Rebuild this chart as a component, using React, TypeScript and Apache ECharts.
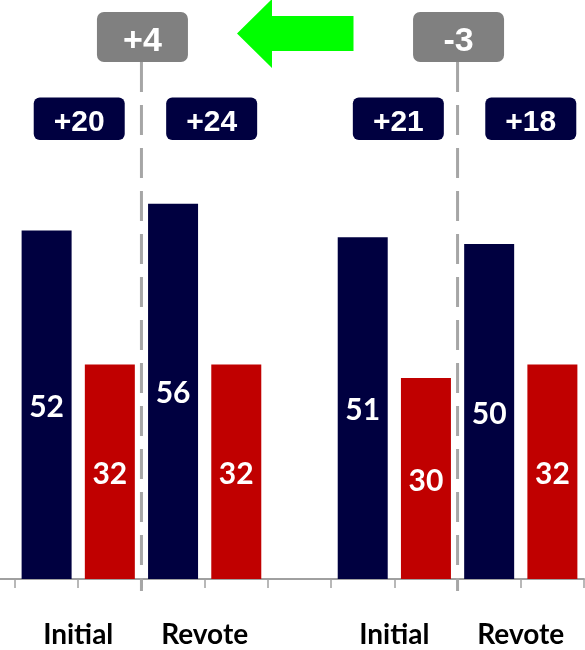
import React, { useEffect, useRef } from "react";
import * as echarts from "echarts";

// Data
const categories = ["Initial", "Revote", "Initial", "Revote"];
const conservative = [52, 56, 51, 50];
const labour = [32, 32, 30, 32];
const leads = ["+20", "+24", "+21", "+18"];
const changes = ["+4", "-3"];

const NAVY = "#000040";
const RED = "#c00000";
const GRAY_BOX = "#808080";
const DASH = "#a6a6a6";

// slot layout: 4 pairs, with an empty slot between the 2nd and 3rd pair
const slotOfPair = [0, 2, 5, 7];
const slotCount = 9;

export default function App() {
  const ref = useRef<HTMLDivElement>(null);

  useEffect(() => {
    if (!ref.current) return;
    const chart = echarts.init(ref.current, undefined, { renderer: "svg" });

    const navyData: (number | string)[] = new Array(slotCount).fill("-");
    const redData: (number | string)[] = new Array(slotCount).fill("-");
    slotOfPair.forEach((s, i) => {
      navyData[s] = conservative[i];
      redData[s + 1] = labour[i];
    });
    const slots = Array.from({ length: slotCount }, (_, i) => "s" + i);

    const valueLabel = {
      show: true,
      position: "inside",
      color: "#ffffff",
      fontFamily: "Lato",
      fontWeight: "bold",
      fontSize: 30,
    };

    chart.setOption({
      animation: false,
      grid: { left: 15, right: 1, top: 43, bottom: 71 },
      xAxis: {
        type: "category",
        data: slots,
        boundaryGap: true,
        axisLine: { show: true, lineStyle: { color: "#a0a0a0", width: 2 } },
        axisTick: { show: true, length: 9, lineStyle: { color: "#a0a0a0", width: 1.5 } },
        axisLabel: { show: false },
      },
      yAxis: {
        type: "value",
        min: 0,
        max: 80,
        show: false,
        splitLine: { show: false },
      },
      series: [
        {
          type: "bar",
          data: navyData,
          barWidth: 50,
          barGap: "-100%",
          itemStyle: { color: NAVY },
          label: valueLabel,
        },
        {
          type: "bar",
          data: redData,
          barWidth: 50,
          itemStyle: { color: RED },
          label: valueLabel,
        },
      ],
    });

    const px = (slot: number) => chart.convertToPixel({ xAxisIndex: 0 }, slots[slot]) as number;
    const half = (px(1) - px(0)) / 2;
    const boundaryAfter = (slot: number) => px(slot) + half;
    const axisY = chart.convertToPixel({ yAxisIndex: 0 }, 0) as number;

    const graphics: any[] = [];

    // axis line extension to the left edge
    graphics.push({
      type: "line",
      shape: { x1: 0, y1: axisY, x2: px(0) - half, y2: axisY },
      style: { stroke: "#a0a0a0", lineWidth: 2 },
    });

    // dashed separators + change boxes
    const sepSlots = [1, 6];
    sepSlots.forEach((s, i) => {
      const x = boundaryAfter(s);
      graphics.push({
        type: "line",
        shape: { x1: x, y1: 62, x2: x, y2: axisY + 12 },
        style: { stroke: DASH, lineWidth: 3, lineDash: [30, 13] },
        z: 1,
      });
      graphics.push({
        type: "rect",
        shape: { x: x + 1 - 45.5, y: 12, width: 91, height: 50, r: 7 },
        style: { fill: GRAY_BOX },
        z: 5,
      });
      graphics.push({
        type: "text",
        style: {
          text: changes[i],
          x: x + 1,
          y: 39,
          align: "center",
          verticalAlign: "middle",
          fill: "#ffffff",
          font: "bold 34px 'Liberation Sans', Arial, sans-serif",
        },
        z: 6,
      });
    });

    // lead badges + category labels
    const leadOffsets = [1, 7, 4, 10];
    slotOfPair.forEach((s, i) => {
      const x = boundaryAfter(s);
      const cx = x + leadOffsets[i];
      graphics.push({
        type: "rect",
        shape: { x: cx - 45.5, y: 97.5, width: 91, height: 42.5, r: 6 },
        style: { fill: NAVY },
        z: 5,
      });
      graphics.push({
        type: "text",
        style: {
          text: leads[i],
          x: cx,
          y: 120,
          align: "center",
          verticalAlign: "middle",
          fill: "#ffffff",
          font: "bold 30px 'Liberation Sans', Arial, sans-serif",
        },
        z: 6,
      });
      graphics.push({
        type: "text",
        style: {
          text: categories[i],
          x: x,
          y: 633,
          align: "center",
          verticalAlign: "middle",
          fill: "#000000",
          font: "bold 28px Lato, sans-serif",
        },
      });
    });

    // green arrow
    graphics.push({
      type: "polygon",
      shape: {
        points: [
          [237, 33.5],
          [272, -1],
          [272, 16],
          [353.5, 16],
          [353.5, 51],
          [272, 51],
          [272, 68],
        ],
      },
      style: { fill: "#00ff00" },
    });

    chart.setOption({ graphic: graphics });

    return () => chart.dispose();
  }, []);

  return (
    <div
      ref={ref}
      style={{ position: "fixed", left: 0, top: 0, width: 585, height: 650 }}
    />
  );
}
